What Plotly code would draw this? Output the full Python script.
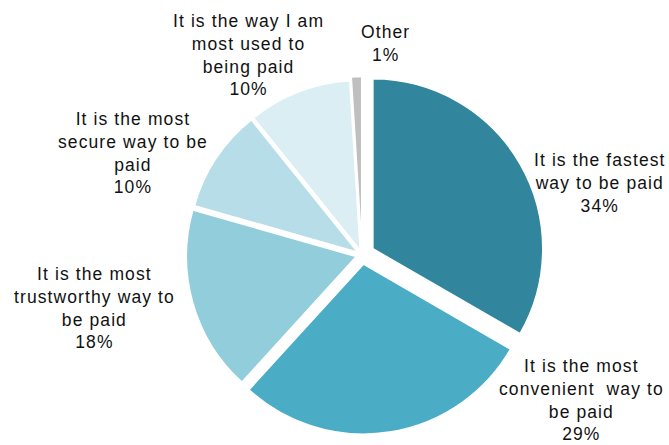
import plotly.graph_objects as go

categories = ["It is the fastest<br>way to be paid",
              "It is the most<br>convenient  way to<br>be paid",
              "It is the most<br>trustworthy way to<br>be paid",
              "It is the most<br>secure way to be<br>paid",
              "It is the way I am<br>most used to<br>being paid",
              "Other"]
values = [34, 29, 18, 10, 10, 1]
pct_labels = ["34%", "29%", "18%", "10%", "10%", "1%"]

colors = ["#31859C", "#4BACC6", "#92CDDC", "#B7DEE8", "#DAEEF3", "#BFBFBF"]
pulls = [0.074, 0.055, 0.035, 0.03, 0.03, 0.05]

W, H = 669, 445
# label anchor positions in pixels (x, y from top)
label_pos = [(600, 183), (581, 400), (94, 308), (133, 153), (248, 55), (385, 43)]

fig = go.Figure(go.Pie(
    labels=categories,
    values=values,
    textinfo="none",
    sort=False,
    direction="clockwise",
    rotation=0,
    pull=pulls,
    marker=dict(colors=colors, line=dict(color="white", width=1.5)),
    domain=dict(x=[0.2211, 0.8611], y=[0.017, 0.837]),
    showlegend=False,
    hoverinfo="label+percent",
))

for cat, pct, (px, py) in zip(categories, pct_labels, label_pos):
    txt = "<br>".join('<span style="letter-spacing:1.1px">' + line + "</span>"
                      for line in (cat + "<br>" + pct).split("<br>"))
    fig.add_annotation(
        x=px / W, y=1 - py / H, xref="paper", yref="paper",
        text=txt, showarrow=False, align="center",
        xanchor="center", yanchor="middle",
        font=dict(family="Liberation Sans, Arial, sans-serif", size=17.5, color="#111111"),
    )

fig.update_layout(
    width=W, height=H,
    margin=dict(l=0, r=0, t=0, b=0),
    paper_bgcolor="white", plot_bgcolor="white",
)
fig.write_html("out.html")
